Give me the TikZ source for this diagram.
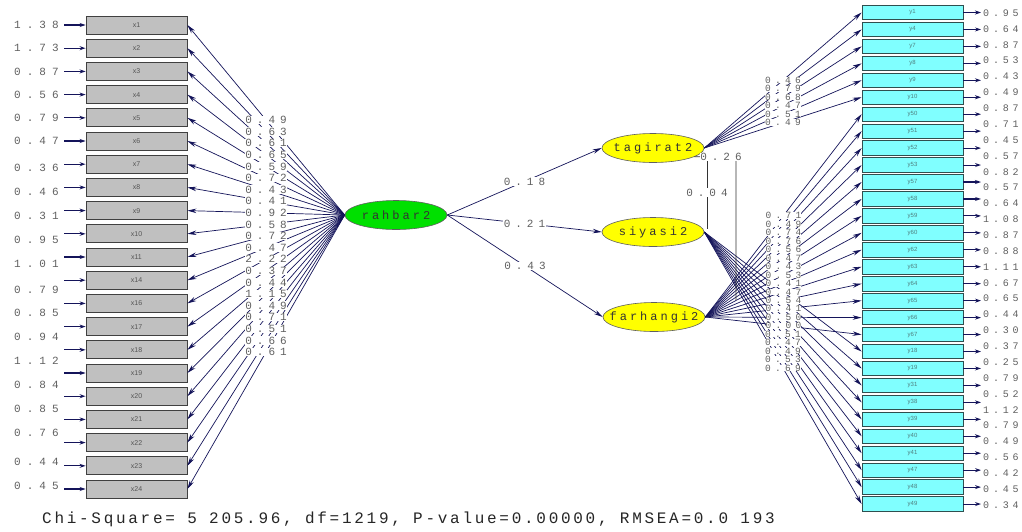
\documentclass[tikz,border=0pt]{standalone}
\usepackage{fontspec}
\setmainfont{Liberation Sans}
\newfontfamily\labfont[LetterSpace=45]{Liberation Mono}
\newfontfamily\elabfont[LetterSpace=55]{Liberation Mono}
\newfontfamily\rlabfont[LetterSpace=38]{Liberation Mono}
\newfontfamily\latfont[LetterSpace=25]{Liberation Mono}
\newfontfamily\chifont[LetterSpace=17]{Liberation Mono}
\usetikzlibrary{shapes.geometric,arrows.meta}
\definecolor{navy}{HTML}{14145A}
\definecolor{labgray}{HTML}{606060}
\definecolor{xfill}{HTML}{C0C0C0}
\definecolor{xedge}{HTML}{404040}
\definecolor{xtext}{HTML}{555555}
\definecolor{yfill}{HTML}{80FFFF}
\definecolor{yedge}{HTML}{2F4F4F}
\definecolor{ytext}{HTML}{4F7F7F}
\definecolor{latgreen}{HTML}{00E000}
\definecolor{latyellow}{HTML}{FFFF00}
\definecolor{latedge}{HTML}{606060}
\definecolor{lattext}{HTML}{333333}
\tikzset{
  conn/.style={draw=navy, line width=0.7pt, -{Stealth[length=9pt,width=4.5pt]}},
  errtip/.style={draw=navy, line width=1.1pt, -{Stealth[length=6pt,width=4pt]}},
  cov/.style={draw=black!80, line width=0.8pt},
  lab/.style={font=\labfont\fontsize{11}{11}\selectfont, text=labgray, fill=white, inner sep=0.5pt},
  rlab/.style={font=\labfont\fontsize{9.5}{9.5}\selectfont, text=labgray, fill=white, inner sep=0pt},
  errlab/.style={font=\elabfont\fontsize{11}{11}\selectfont, text=labgray, inner sep=0pt, anchor=west},
  rerrlab/.style={font=\rlabfont\fontsize{10}{10}\selectfont, text=labgray, inner sep=0pt, anchor=west},
  xbox/.style={draw=xedge, fill=xfill, line width=0.8pt, minimum width=101pt, minimum height=18pt, inner sep=0pt, font=\fontsize{7}{7}\selectfont, text=xtext},
  ybox/.style={draw=yedge, fill=yfill, line width=0.8pt, minimum width=101pt, minimum height=14.5pt, inner sep=0pt, font=\fontsize{6}{6}\selectfont, text=ytext},
  latent/.style={ellipse, draw=latedge, line width=0.6pt, minimum width=102pt, minimum height=29pt, inner xsep=-10pt, inner ysep=0pt, font=\latfont\fontsize{12}{12}\selectfont, text=lattext},
}
\begin{document}
\begin{tikzpicture}[x=1pt,y=-1pt]
\useasboundingbox[fill=white] (0,0) rectangle (1022,531);

% latent variables
\node[latent, fill=latgreen] (rahbar2) at (396,215) {rahbar2};
\node[latent, fill=latyellow] (tagirat2) at (653,148) {tagirat2};
\node[latent, fill=latyellow] (siyasi2) at (653,232) {siyasi2};
\node[latent, fill=latyellow] (farhangi2) at (654,317) {farhangi2};

% left boxes
\foreach \n [count=\i from 0] in {1,2,3,4,5,6,7,8,9,10,11,14,16,17,18,19,20,21,22,23,24}{
  \node[xbox] (x\n) at (136.5,{25+23.2*\i}) {x\n};
  \coordinate (ex\n) at (64,{25+23.2*\i});
  \draw[errtip] (ex\n) -- (x\n.west);
}
% right boxes
\foreach \n [count=\i from 0] in {1,4,7,8,9,10,50,51,52,53,57,58,59,60,62,63,64,65,66,67,18,19,31,38,39,40,41,47,48,49}{
  \node[ybox] (y\n) at (912.5,{12.5+16.95*\i}) {y\n};
  \coordinate (ey\n) at (981,{12.5+16.95*\i});
  \draw[errtip] (y\n.east) -- (ey\n);
}

% loadings of rahbar2
\foreach \n in {1,2,3,4,5,6,7,8,9,10,11,14,16,17,18,19,20,21,22,23,24}{
  \draw[conn] (rahbar2.west) -- (x\n.east);
}
% loadings of tagirat2
\foreach \n in {1,4,7,8,9,10}{
  \draw[conn] (tagirat2.east) -- (y\n.west);
}
% loadings of farhangi2
\foreach \n in {50,51,52,53,57,58,59,60,62,63,64,65,66,67}{
  \draw[conn] (farhangi2.east) -- (y\n.west);
}
% loadings of siyasi2
\foreach \n in {18,19,31,38,39,40,41,47,48,49}{
  \draw[conn] (siyasi2.east) -- (y\n.west);
}

% structural paths
\draw[conn] (rahbar2.east) -- node[lab]{0.18} (tagirat2.west);
\draw[conn] (rahbar2.east) -- node[lab]{0.21} (siyasi2.west);
\draw[conn] (rahbar2.east) -- node[lab]{0.43} (farhangi2.west);

% covariances
\coordinate (c04a) at (707,156);
\coordinate (c04b) at (707,229);
\draw[cov] (c04a) -- node[lab]{0.04} (c04b);
\coordinate (c26b) at (736,157);
\coordinate (c26c) at (736,300);
\draw[cov] (tagirat2.-12) -- (c26b) -- (c26c);
\node[lab] (l26) at (721,157) {0.26};

% loading labels
\foreach \n/\v in {1/0.49,2/0.63,3/0.61,4/0.65,5/0.59,6/0.72,7/0.43,8/0.41,9/0.92,10/0.58,11/0.72,14/0.47,16/2.22,17/0.37,18/0.44,19/1.15,20/0.49,21/0.71,22/0.51,23/0.66,24/0.61}{
  \path (rahbar2.west) -- node[lab]{\v} (x\n.east);
}
\foreach \n/\v in {1/0.46,4/0.79,7/0.68,8/0.47,9/0.51,10/0.49}{
  \path (tagirat2.east) -- node[rlab]{\v} (y\n.west);
}
\foreach \n/\v in {50/0.71,51/0.49,52/0.74,53/0.76,57/0.56,58/0.47,59/0.43,60/0.53,62/0.41,63/0.47,64/0.54,65/0.41,66/0.50,67/0.00}{
  \path (farhangi2.east) -- node[rlab]{\v} (y\n.west);
}
\foreach \n/\v in {40/0.51,41/0.47,47/0.49,48/0.53,49/0.69}{
  \path (siyasi2.east) -- node[rlab]{\v} (y\n.west);
}

% error variances left
\foreach \v/\yy [count=\i] in {1.38/25,1.73/48,0.87/72,0.56/95,0.79/118,0.47/141,0.36/168,0.46/192,0.31/216,0.95/240,1.01/264,0.79/290,0.85/313,0.94/337,1.12/361,0.84/385,0.85/409,0.76/433,0.44/462,0.45/486}{
  \node[errlab] (el\i) at (14,\yy) {\v};
}
% error variances right
\foreach \v [count=\i from 0] in {0.95,0.64,0.87,0.53,0.43,0.49,0.87,0.71,0.45,0.57,0.82,0.57,0.64,1.08,0.87,0.88,1.11,0.67,0.65,0.44,0.30,0.37,0.25,0.79,0.52,1.12,0.79,0.49,0.56,0.42,0.45,0.34}{
  \node[rerrlab] (er\i) at (983,{13+15.87*\i}) {\v};
}

\node[anchor=west, inner sep=0pt, font=\chifont\fontsize{16}{16}\selectfont, text=black!85] (chi) at (42,519)
  {Chi-Square= 5 205.96, df=1219, P-value=0.00000, RMSEA=0.0 193};
\end{tikzpicture}
\end{document}
